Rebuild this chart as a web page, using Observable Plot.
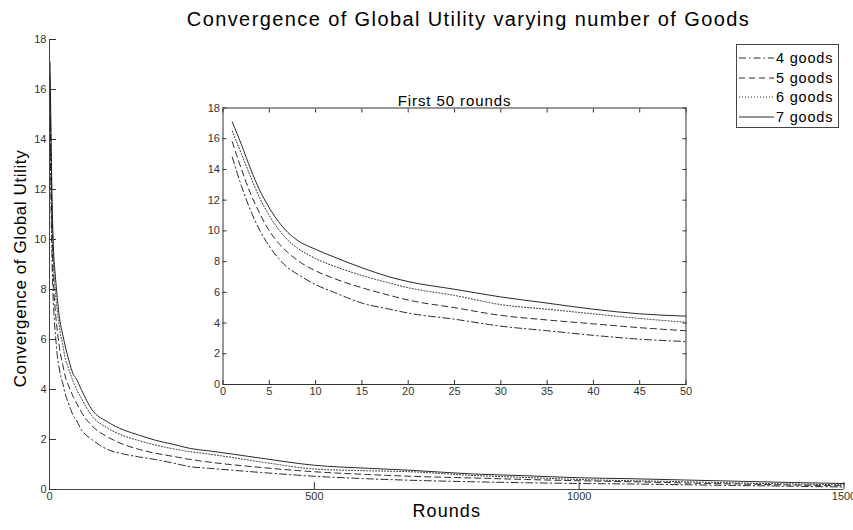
<!DOCTYPE html>
<html><head><meta charset="utf-8">
<script src="https://cdn.jsdelivr.net/npm/d3@7"></script>
<script src="https://cdn.jsdelivr.net/npm/@observablehq/plot@0.6"></script>
<style>
body{margin:0;background:#fff;font-family:"Liberation Sans",Arial,Helvetica,sans-serif;}
#wrap{position:relative;width:853px;height:530px;overflow:hidden;background:#fff;}
#title{height:32px;box-sizing:border-box;padding-top:7px;padding-left:84px;text-align:center;font-size:20px;line-height:24px;letter-spacing:1.4px;color:#000;white-space:nowrap;}
#inset{position:absolute;left:197px;top:85px;}
#legend{position:absolute;left:736px;top:44px;width:103px;height:84px;border:1px solid #444;background:#fff;box-sizing:border-box;padding-top:3px;}
.row{height:19.7px;display:flex;align-items:center;font-size:14.5px;letter-spacing:0.8px;color:#000;}
.row svg{margin-left:1.5px;margin-right:2.5px;}
</style></head><body>
<div id="wrap">
  <div id="title">Convergence of Global Utility varying number of Goods</div>
  <div id="main"></div>
  <div id="inset"></div>
  <div id="legend"></div>
</div>
<script>
// ---- data ----
const seriesNames = ["4 goods", "5 goods", "6 goods", "7 goods"];
const rounds = [1,2,3,4,5,6,7,8,10,12,15,18,20,25,30,35,40,45,50,
  60,80,110,140,170,200,235,266,300,400,500,600,681,800,900,1000,1100,1200,1300,1400,1500];
const goods4 = [14.8,12.9,11.3,10.0,9.0,8.2,7.6,7.2,6.5,6.0,5.3,4.9,4.65,4.25,3.8,3.5,3.2,2.95,2.8,
  2.4,2.0,1.6,1.42,1.3,1.2,1.05,0.91,0.85,0.68,0.53,0.43,0.37,0.31,0.27,0.24,0.22,0.19,0.16,0.13,0.1];
const goods5 = [15.8,14.0,12.4,11.1,10.0,9.2,8.6,8.1,7.4,6.9,6.3,5.8,5.5,5.0,4.5,4.2,3.95,3.7,3.5,
  3.1,2.55,2.1,1.8,1.6,1.45,1.32,1.2,1.1,0.88,0.71,0.6,0.53,0.46,0.4,0.35,0.31,0.26,0.22,0.18,0.15];
const goods6 = [16.5,15.0,13.5,12.1,11.0,10.1,9.4,8.9,8.2,7.7,7.1,6.6,6.3,5.8,5.2,4.9,4.6,4.3,4.05,
  3.65,2.95,2.45,2.15,1.95,1.78,1.62,1.51,1.42,1.1,0.82,0.75,0.71,0.56,0.48,0.4,0.35,0.31,0.26,0.22,0.19];
const goods7 = [17.1,15.6,14.0,12.6,11.5,10.6,9.9,9.4,8.8,8.3,7.6,7.0,6.7,6.2,5.7,5.3,4.9,4.6,4.45,
  4.0,3.2,2.7,2.38,2.17,1.97,1.8,1.64,1.55,1.25,0.97,0.85,0.77,0.62,0.55,0.47,0.43,0.38,0.33,0.28,0.24];
const mainXTicks = [0, 500, 1000, 1500];
const yTicks = [0,2,4,6,8,10,12,14,16,18];
const insetXTicks = [0,5,10,15,20,25,30,35,40,45,50];
const insetLimit = 50;

// ---- styles ----
const dashes = ["7,3,1.5,3", "6,4", "1,2", null];
const allValues = [goods4, goods5, goods6, goods7];
const series = seriesNames.map((name, i) =>
  rounds.map((r, j) => ({round: r, value: allValues[i][j], series: name})));
const font = "Liberation Sans, Arial, Helvetica, sans-serif";
const plain = d => String(d);

function lineMarks(filterFn, width) {
  return series.map((rows, i) => Plot.line(rows.filter(filterFn), {
    x: "round", y: "value", stroke: "#111", strokeWidth: width,
    strokeDasharray: dashes[i] || undefined, curve: "monotone-x"
  }));
}

const main = Plot.plot({
  width: 853, height: 498,
  marginLeft: 49, marginRight: 9.5, marginTop: 7, marginBottom: 41,
  style: {fontFamily: font, fontSize: "11px", color: "#333", background: "transparent", overflow: "visible"},
  x: {domain: [0, 1500]},
  y: {domain: [0, 18]},
  marks: [
    ...lineMarks(() => true, 0.9),
    Plot.ruleX([0], {stroke: "#444"}),
    Plot.ruleY([0], {stroke: "#444"}),
    Plot.axisX(mainXTicks, {tickSize: -7, tickPadding: 10, label: null, stroke: "#333", fill: "#333", tickFormat: plain}),
    Plot.axisY(yTicks, {tickSize: -7, tickPadding: 10, label: null, stroke: "#333", fill: "#333", tickFormat: plain}),
    Plot.text(["Convergence of Global Utility"], {frameAnchor: "left", textAnchor: "middle", dx: -29, dy: 4, rotate: -90, fontSize: 17, fill: "#000"}),
    Plot.text(["Rounds"], {frameAnchor: "bottom", textAnchor: "middle", dy: 27, fontSize: 18, fill: "#000"})
  ]
});
main.querySelectorAll("text").forEach(t => {
  const s = t.textContent;
  if (s === "Rounds") t.style.letterSpacing = "1.1px";
  if (s === "Convergence of Global Utility") t.style.letterSpacing = "0.6px";
});
document.getElementById("main").appendChild(main);

const inset = Plot.plot({
  width: 495, height: 320,
  marginLeft: 25.5, marginRight: 6.5, marginTop: 22.5, marginBottom: 21,
  style: {fontFamily: font, fontSize: "11px", color: "#333", background: "transparent", overflow: "visible"},
  x: {domain: [0, insetLimit]},
  y: {domain: [0, 18]},
  marks: [
    Plot.frame({fill: "white", stroke: "none"}),
    ...lineMarks(d => d.round <= insetLimit, 0.9),
    Plot.frame({stroke: "#333"}),
    Plot.axisX(insetXTicks, {anchor: "bottom", tickSize: -4, tickPadding: 7, label: null, fill: "#333", tickFormat: plain}),
    Plot.axisX(insetXTicks, {anchor: "top", tickSize: -4, tickFormat: () => "", label: null}),
    Plot.axisY(yTicks, {anchor: "left", tickSize: -4, tickPadding: 7, label: null, fill: "#333", tickFormat: plain}),
    Plot.axisY(yTicks, {anchor: "right", tickSize: -4, tickFormat: () => "", label: null}),
    Plot.text(["First 50 rounds"], {frameAnchor: "top", dy: -12.5, fontSize: 15, fill: "#000"})
  ]
});
inset.querySelectorAll("text").forEach(t => {
  if (t.textContent === "First 50 rounds") t.style.letterSpacing = "0.9px";
});
document.getElementById("inset").appendChild(inset);

// legend
const legend = d3.select("#legend");
seriesNames.forEach((name, i) => {
  const row = legend.append("div").attr("class", "row");
  const svg = row.append("svg").attr("width", 35).attr("height", 10);
  svg.append("line").attr("x1", 0).attr("x2", 35).attr("y1", 5).attr("y2", 5)
    .attr("stroke", "#111").attr("stroke-width", 0.9)
    .attr("stroke-dasharray", dashes[i]);
  row.append("span").text(name);
});
</script>
</body></html>
